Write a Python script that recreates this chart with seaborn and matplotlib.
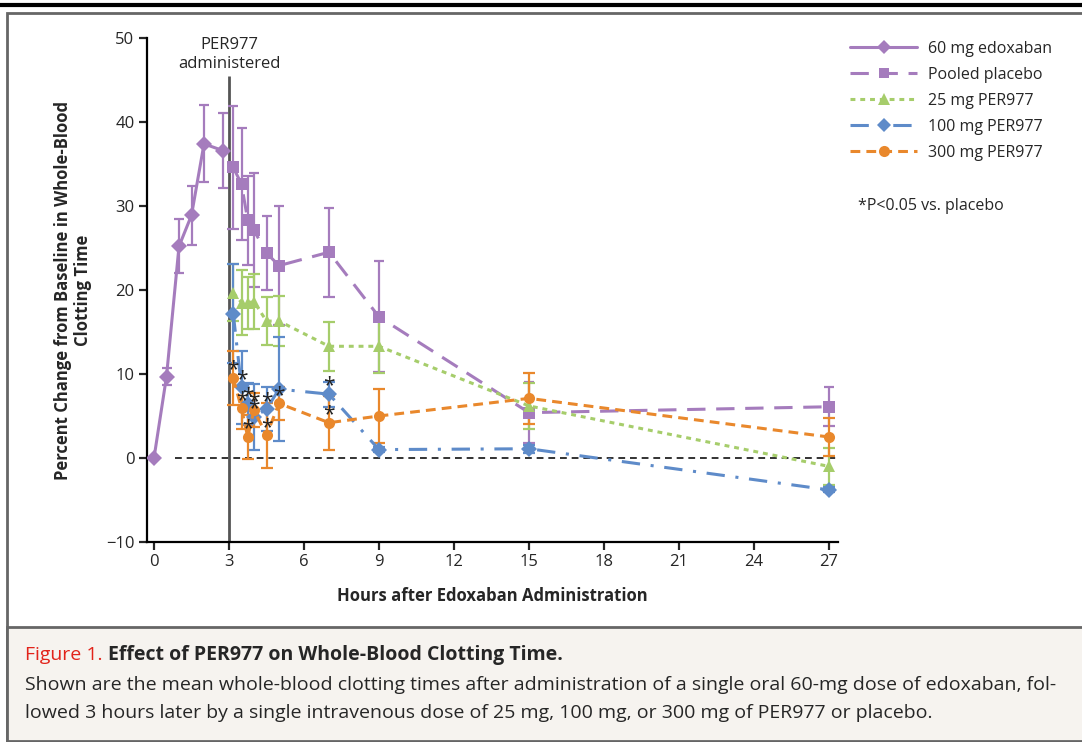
import matplotlib
matplotlib.use("Agg")
import matplotlib.pyplot as plt
from matplotlib.lines import Line2D
from matplotlib.patches import Rectangle
import pandas as pd
import seaborn as sns

groups = ['60 mg edoxaban', 'Pooled placebo', '25 mg PER977',
          '100 mg PER977', '300 mg PER977']

# edoxaban phase (before PER977)
edox_hours = [0, 0.5, 1, 1.5, 2, 2.75]
edox_change = [0, 9.7, 25.2, 28.9, 37.4, 36.6]
edox_err = [0, 1.0, 3.2, 3.5, 4.6, 4.5]

# after PER977 / placebo
post_hours = [3.17, 3.5, 3.75, 4, 4.5, 5, 7, 9, 15, 27]
placebo_change = [34.6, 32.6, 28.3, 27.1, 24.4, 22.9, 24.5, 16.8, 5.4, 6.1]
placebo_err = [7.3, 6.7, 5.3, 6.8, 4.4, 7.1, 5.3, 6.6, 3.6, 2.3]
per25_change = [19.7, 18.5, 18.5, 18.6, 16.3, 16.3, 13.3, 13.3, 6.2, -1.0]
per25_err = [3.4, 3.9, 3.1, 3.3, 2.9, 3.0, 2.9, 3.2, 2.7, 2.2]
per100_change = [17.2, 8.4, 6.4, 4.9, 5.8, 8.2, 7.6, 1.0, 1.1, -3.8]
per100_err = [5.9, 4.3, 2.5, 3.9, 2.6, 6.2, 1.5, 0.3, 0.5, 0.3]
per300_change = [9.5, 5.9, 2.5, 5.7, 2.7, 6.5, 4.2, 5.0, 7.1, 2.5]
per300_err = [3.2, 2.5, 2.6, 2.0, 3.9, 2.0, 3.2, 3.2, 3.0, 2.3]

# time points with P<0.05 vs placebo
sig_hours_100 = [3.5, 3.75, 4, 4.5, 7]
sig_hours_300 = [3.17, 3.5, 3.75, 4, 4.5, 5, 7]

colors = {
    '60 mg edoxaban': '#a57cbd',
    'Pooled placebo': '#a57cbd',
    '25 mg PER977': '#a6cd6b',
    '100 mg PER977': '#5e8bc9',
    '300 mg PER977': '#e9882c',
}
markers = {'60 mg edoxaban': 'D', 'Pooled placebo': 's', '25 mg PER977': '^',
           '100 mg PER977': 'D', '300 mg PER977': 'o'}
dashes = {'60 mg edoxaban': '', 'Pooled placebo': (6, 3.5),
          '25 mg PER977': (1.6, 1.6), '100 mg PER977': (6, 3.5, 1, 3.5),
          '300 mg PER977': (3.2, 2)}
msizes = {'60 mg edoxaban': 7, 'Pooled placebo': 7, '25 mg PER977': 8,
          '100 mg PER977': 7, '300 mg PER977': 8}

series = {
    '60 mg edoxaban': (edox_hours, edox_change, edox_err),
    'Pooled placebo': (post_hours, placebo_change, placebo_err),
    '25 mg PER977': (post_hours, per25_change, per25_err),
    '100 mg PER977': (post_hours, per100_change, per100_err),
    '300 mg PER977': (post_hours, per300_change, per300_err),
}

rows = []
for g in groups:
    h, c, e = series[g]
    for hh, cc, ee in zip(h, c, e):
        rows.append({'group': g, 'hours': hh, 'change': cc, 'err': ee})
df = pd.DataFrame(rows)

sns.set_style("ticks")
plt.rcParams['font.family'] = ['Open Sans', 'DejaVu Sans']

W, H = 1082, 742
fig = plt.figure(figsize=(W / 100, H / 100), dpi=100)

# frame and caption area
fig.add_artist(Rectangle((7 / W, 1 - 741 / H), 1.2, (741 - 13) / H,
                         transform=fig.transFigure, facecolor='white',
                         edgecolor='#666666', lw=2, zorder=-5))
fig.add_artist(Rectangle((7 / W, 1 - 741 / H), 1.2, (741 - 627) / H,
                         transform=fig.transFigure, facecolor='#f6f3ef',
                         edgecolor='#666666', lw=2, zorder=-4))
fig.add_artist(Line2D([0, 1], [1 - 4.5 / H, 1 - 4.5 / H], color='black', lw=3,
                      transform=fig.transFigure))

ax = fig.add_axes([147 / W, 1 - 542 / H, (838 - 147) / W, (542 - 38) / H])
ax.set_facecolor('none')

# error bars
for g in groups:
    sub = df[df.group == g]
    ax.errorbar(sub.hours, sub.change, yerr=sub.err, fmt='none',
                ecolor=colors[g], elinewidth=1.6, capsize=4, capthick=1.6,
                zorder=2)

sns.lineplot(data=df, x='hours', y='change', hue='group', style='group',
             palette=colors, markers=markers, dashes=dashes, lw=2.2,
             markeredgewidth=0, markersize=8, legend=False, ax=ax, zorder=3)
for line, g in zip(ax.lines, groups):
    line.set_markersize(msizes[g])

# significance asterisks
for hours_list, vals in ((sig_hours_100, per100_change),
                         (sig_hours_300, per300_change)):
    for hh in hours_list:
        v = vals[post_hours.index(hh)]
        ax.text(hh, v + 0.3, '*', ha='center', va='baseline', fontsize=15,
                color='#222222', zorder=5)

ax.hlines(0, 0.84, 27.36, colors='#333333', linestyles=(0, (3.5, 2.5)), lw=1.4,
          zorder=1)
ax.vlines(3, -10, 45.5, colors='#555555', lw=2, zorder=1)
ax.text(3, 46.0, 'PER977\nadministered', ha='center', va='bottom',
        fontsize=12, linespacing=1.25)

ax.set_xlim(-0.28, 27.36)
ax.set_ylim(-10, 50)
ax.set_xticks(range(0, 28, 3))
ax.set_yticks(range(-10, 51, 10))
ax.set_yticklabels(['\u221210'] + [str(v) for v in range(0, 51, 10)])
sns.despine(ax=ax)
for s in ('left', 'bottom'):
    ax.spines[s].set_linewidth(1.6)
    ax.spines[s].set_color('black')
ax.tick_params(direction='out', length=6, width=1.6, labelsize=12, pad=3)
ax.set_xlabel('Hours after Edoxaban Administration', fontsize=12,
              fontweight='bold', labelpad=12)
ax.set_ylabel('Percent Change from Baseline in Whole-Blood\nClotting Time',
              fontsize=12, fontweight='bold', labelpad=10, linespacing=1.15)

handles = [Line2D([], [], color=colors[g], marker=markers[g], lw=2.2,
                  markersize=msizes[g], markeredgewidth=0,
                  linestyle='-' if dashes[g] == '' else (0, dashes[g]))
           for g in groups]
ax.legend(handles, groups, loc='upper left', bbox_to_anchor=(850 / W, 1 - 41 / H),
          bbox_transform=fig.transFigure, frameon=False, fontsize=11.5,
          handlelength=4.2, handletextpad=0.7, labelspacing=0.62, numpoints=1,
          borderaxespad=0, borderpad=0)
fig.text(858 / W, 1 - 206 / H, '*P<0.05 vs. placebo', fontsize=11.5,
         va='center', ha='left')

# caption
t1 = fig.text(25 / W, 1 - 655 / H, 'Figure 1.', color='#e2231a', fontsize=14,
              va='center', ha='left')
fig.canvas.draw()
bb = t1.get_window_extent()
fig.text((bb.x1 + 5) / W, 1 - 655 / H,
         'Effect of PER977 on Whole-Blood Clotting Time.', fontsize=14,
         fontweight='bold', va='center', ha='left')
fig.text(25 / W, 1 - 685 / H,
         'Shown are the mean whole-blood clotting times after administration '
         'of a single oral 60-mg dose of edoxaban, fol-', fontsize=14,
         va='center', ha='left')
fig.text(25 / W, 1 - 713 / H,
         'lowed 3 hours later by a single intravenous dose of 25 mg, 100 mg, '
         'or 300 mg of PER977 or placebo.', fontsize=14, va='center', ha='left')

fig.savefig('out.png', dpi=100)
